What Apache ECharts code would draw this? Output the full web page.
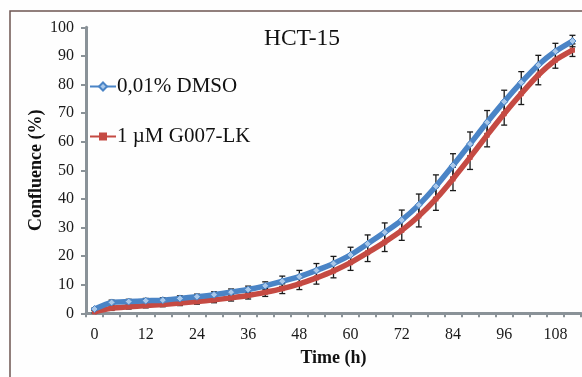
<!DOCTYPE html>
<html>
<head>
<meta charset="utf-8">
<script src="https://cdn.jsdelivr.net/npm/echarts@6/dist/echarts.min.js"></script>
<style>
html,body{margin:0;padding:0;background:#fefefe;}
#c{width:582px;height:377px;}
</style>
</head>
<body>
<div id="c"></div>
<script>
const times = [0,4,8,12,16,20,24,28,32,36,40,44,48,52,56,60,64,68,72,76,80,84,88,92,96,100,104,108,112];
const dmso = [1.5,3.8,4.1,4.4,4.6,5.2,5.8,6.5,7.4,8.3,9.6,11.2,12.8,15.0,17.4,20.4,24.3,28.3,32.6,37.9,44.4,51.7,59.2,66.8,74.0,80.7,86.8,91.6,95.2];
const g007 = [0.5,1.8,2.3,2.7,3.1,3.6,4.1,4.7,5.4,6.2,7.3,8.6,10.3,12.4,14.8,17.7,21.2,24.9,29.0,34.0,40.0,47.0,54.5,62.3,69.8,76.8,83.3,88.5,92.0];
const dmsoErr = [0.4,0.8,0.8,0.8,0.8,0.9,0.9,1.0,1.1,1.2,1.4,1.8,2.2,2.4,2.5,2.7,3.1,3.3,3.5,3.8,4.0,4.1,4.2,4.1,4.0,3.8,3.4,2.8,2.0];
const g007Err = [0.4,0.8,0.8,0.8,0.8,0.9,0.9,1.0,1.1,1.2,1.4,1.7,2.0,2.2,2.4,2.7,3.1,3.3,3.5,3.8,4.0,4.1,4.2,4.1,4.0,3.8,3.4,2.8,2.2];
const yTicks = {min:0, max:100, interval:10};
const names = ['0,01% DMSO','1 µM G007-LK'];

const serif = 'Liberation Serif';
const chart = echarts.init(document.getElementById('c'), null, {renderer:'canvas'});

function errData(vals, errs){
  return vals.map((v,i)=>[i, v-errs[i], v+errs[i]]);
}
function errRender(params, api){
  const x = api.value(0);
  const lo = api.coord([x, api.value(1)]);
  const hi = api.coord([x, api.value(2)]);
  const w = 3;
  const st = {stroke:'#1a1a1a', lineWidth:1.3};
  return {type:'group', children:[
    {type:'line', shape:{x1:hi[0],y1:hi[1],x2:lo[0],y2:lo[1]}, style:st},
    {type:'line', shape:{x1:hi[0]-w,y1:hi[1],x2:hi[0]+w,y2:hi[1]}, style:st},
    {type:'line', shape:{x1:lo[0]-w,y1:lo[1],x2:lo[0]+w,y2:lo[1]}, style:st}
  ]};
}

const axisGray = '#8a9298';
chart.setOption({
  backgroundColor:'#fefefe',
  animation:false,
  grid:{left:86, right:1, top:27.3, bottom:63.7},
  graphic:[
    {type:'rect', shape:{x:10, y:11, width:620, height:420}, style:{fill:'none', stroke:'#6e5652', lineWidth:1.5}, z:-1},
    {type:'text', x:302, y:39, style:{text:'HCT-15', font:'23.5px "Liberation Serif"', fill:'#111', textAlign:'center', textVerticalAlign:'middle'}}
  ],
  legend:{
    data:names, orient:'vertical', left:84, top:71, itemGap:29,
    itemWidth:26, itemHeight:10,
    textStyle:{fontFamily:serif, fontSize:21, color:'#111', padding:[0,0,0,-4]}
  },
  xAxis:{
    type:'category', data:times.map(String), boundaryGap:true,
    axisLine:{lineStyle:{color:axisGray, width:3}},
    axisTick:{show:true, interval:0, length:4, lineStyle:{color:axisGray, width:2}},
    axisLabel:{interval:2, margin:13, fontFamily:serif, fontSize:16, color:'#1a1a1a'},
    name:'Time (h)', nameLocation:'middle', nameGap:36,
    nameTextStyle:{fontFamily:serif, fontSize:18, fontWeight:'bold', color:'#111'}
  },
  yAxis:{
    type:'value', min:yTicks.min, max:yTicks.max, interval:yTicks.interval,
    axisLine:{show:true, lineStyle:{color:axisGray, width:3}},
    axisTick:{show:true, length:5, lineStyle:{color:axisGray, width:2}},
    splitLine:{show:false},
    axisLabel:{margin:12, fontFamily:serif, fontSize:16, color:'#1a1a1a'},
    name:'Confluence (%)', nameLocation:'middle', nameGap:41, nameMoveOverlap:false,
    nameTextStyle:{fontFamily:serif, fontSize:18, fontWeight:'bold', color:'#111'}
  },
  series:[
    {type:'custom', data:errData(g007, g007Err), renderItem:errRender, z:1, silent:true},
    {type:'custom', data:errData(dmso, dmsoErr), renderItem:errRender, z:1, silent:true},
    {name:names[1], type:'line', data:g007, z:2, smooth:0.2,
     lineStyle:{color:'#c54a43', width:5.5}, itemStyle:{color:'#c54a43'},
     symbol:'rect', symbolSize:5, showSymbol:true},
    {name:names[0], type:'line', data:dmso, z:3, smooth:0.2,
     lineStyle:{color:'#4a84c6', width:5.5}, itemStyle:{color:'#a9c8ea', borderColor:'#4a84c6', borderWidth:1},
     symbol:'diamond', symbolSize:7, showSymbol:true}
  ]
});
</script>
</body>
</html>
